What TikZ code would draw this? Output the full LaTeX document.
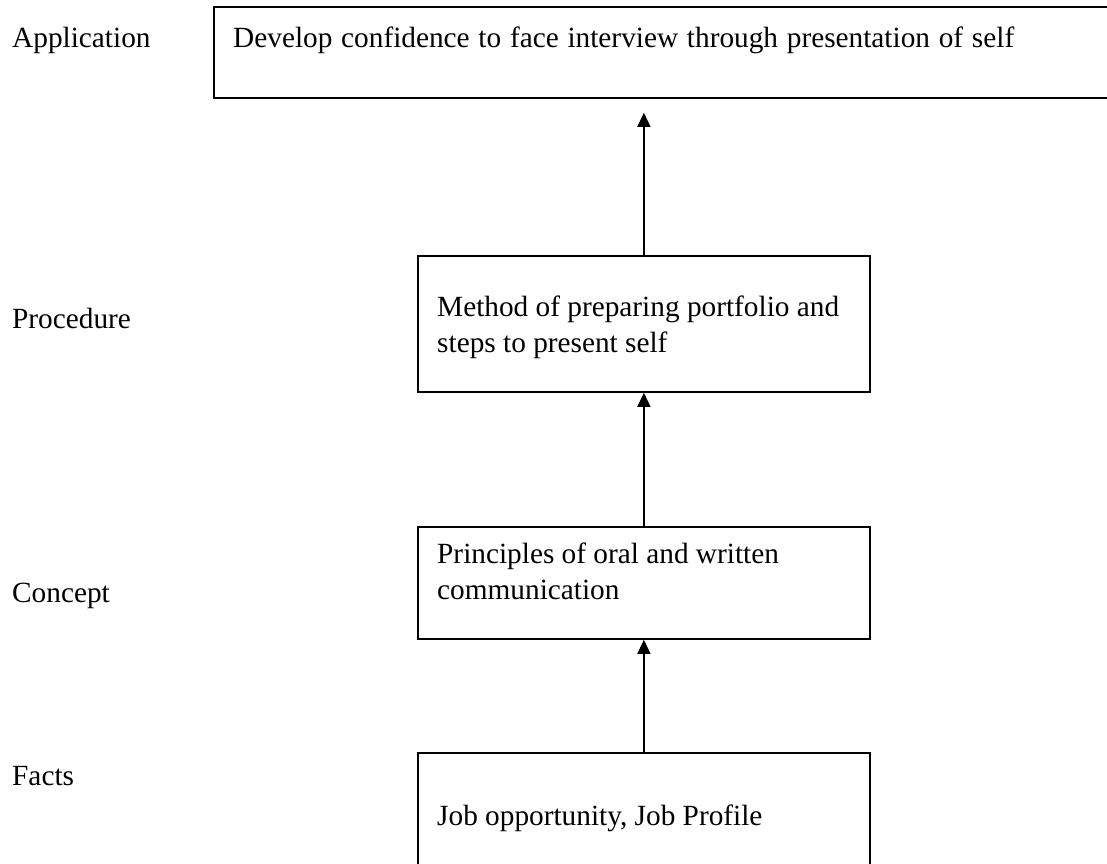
\documentclass[tikz,border=0pt]{standalone}
\usepackage{fontspec}
\setmainfont{Liberation Serif}
\usetikzlibrary{arrows.meta}
\begin{document}
\begin{tikzpicture}[x=1pt,y=-1pt,
  every node/.style={font=\fontsize{29.3}{35.5}\selectfont, inner sep=0pt},
  lvl/.style={anchor=base west},
  txt/.style={anchor=base west, align=left},
  box/.style={draw, line width=1.8pt, anchor=north west, minimum width=452pt, inner sep=0pt},
  uparrow/.style={line width=1.4pt, -{Triangle[width=13pt,length=14pt]}}]
  \useasboundingbox (0,0) rectangle (1107,863);
  \clip (0,0) rectangle (1107,863);

  % level names on the left
  \node[lvl] (lapp) at (12,47) {Application};
  \node[lvl] (lproc) at (12,328) {Procedure};
  \node[lvl] (lcon) at (12,602) {Concept};
  \node[lvl] (lfact) at (12,785) {Facts};

  % boxes
  \node[box, minimum width=940pt, minimum height=91pt] (app) at (213,6) {};
  \node[box, minimum height=136pt] (proc) at (417,255) {};
  \node[box, minimum height=112pt] (con) at (417,526) {};
  \node[box, minimum height=150pt] (fact) at (417,752) {};

  % box texts (base anchor sits on the last line)
  \node[txt] (tapp) at (233,47) {\makebox[781pt][s]{Develop confidence to face interview through presentation of self}};
  \node[txt] (tproc) at (437,352) {Method of preparing portfolio and\\steps to present self};
  \node[txt] (tcon) at (437,599) {Principles of oral and written\\communication};
  \node[txt] (tfact) at (437,825) {Job opportunity, Job Profile};

  % upward connectors
  \draw[uparrow] (fact.north) -- (con.south);
  \draw[uparrow] (con.north) -- (proc.south);
  \draw[uparrow, shorten >=14pt] (proc.north) -- (proc.north |- app.south);
\end{tikzpicture}
\end{document}
